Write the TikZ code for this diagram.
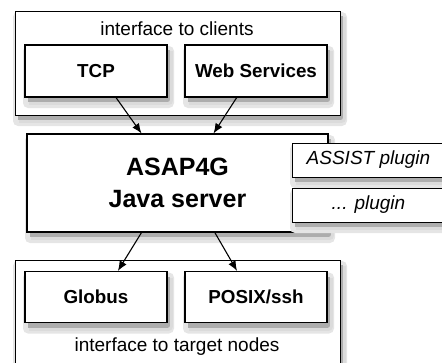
\documentclass[tikz,border=0pt]{standalone}
\usepackage{fontspec}
\setmainfont{Liberation Sans}
\usetikzlibrary{arrows.meta}
\newcommand\myshadow[4]{%
  \fill[black!10,rounded corners=5pt] (#1-2,#2+1) rectangle (#3+7,#4+11);
  \draw[black!14,line width=9pt,line join=round] (#3+1.5,#2+6) -- (#3+1.5,#4+3.5) -- (#1+4,#4+3.5);
  \draw[black!32,line width=5pt,line join=round] (#3+0.5,#2+5) -- (#3+0.5,#4+2.5) -- (#1+3,#4+2.5);}
\begin{document}
\begin{tikzpicture}[x=1pt,y=-1pt,
  outer/.style={draw,line width=1pt,fill=white,inner sep=0pt},
  inbox/.style={draw,line width=1.1pt,fill=white,minimum width=142pt,minimum height=52pt,font=\fontsize{18.8}{20}\selectfont\bfseries,inner sep=0pt},
  plug/.style={draw,line width=1pt,fill=white,minimum width=152pt,minimum height=34pt,font=\fontsize{19}{20}\selectfont\itshape,inner sep=0pt},
  lbl/.style={font=\fontsize{19}{20}\selectfont,inner sep=0pt,anchor=base},
  arr/.style={line width=1.1pt,-{Latex[length=10pt,width=8pt]}}]
\useasboundingbox (0,0) rectangle (442,362);
\begin{scope}
\clip (0,0) rectangle (442,362);
% outer boxes
\myshadow{15}{11}{340}{115}
\node[outer,minimum width=325pt,minimum height=104pt] (top) at (177.5,63) {};
\myshadow{15}{260}{340}{370}
\node[outer,minimum width=325pt,minimum height=110pt] (bot) at (177.5,315) {};
\node[lbl] (toplbl) at (177,35.5) {interface to clients};
\node[lbl] (botlbl) at (177,351) {interface to target nodes};
% inner boxes
\myshadow{25}{45}{167}{97}
\node[inbox] (tcp) at (96,71) {TCP};
\myshadow{185}{45}{327}{97}
\node[inbox] (web) at (256,71) {Web Services};
\myshadow{25}{271.5}{167}{322.5}
\node[inbox,minimum height=51pt] (globus) at (96,297) {Globus};
\myshadow{185}{271.5}{327}{322.5}
\node[inbox,minimum height=51pt] (posix) at (256,297) {POSIX/ssh};
% server
\myshadow{27}{134}{328}{232}
\node[draw,line width=1.1pt,fill=white,minimum width=301pt,minimum height=98pt,align=center,
  font=\fontsize{25}{31.6}\selectfont\bfseries,inner sep=0pt] (server) at (177.5,183) {ASAP4G\\Java server};
\myshadow{292}{143}{444}{177}
\node[plug,anchor=west] (assist) at (292,160) {ASSIST plugin};
\myshadow{292}{188}{444}{222}
\node[plug,anchor=west] (other) at (292,205) {... plugin};
% arrows
\draw[arr] (tcp.-53.8) -- (server.126.7);
\draw[arr] (web.-126.2) -- (server.54.1);
\draw[arr] (server.-126.7) -- (globus.50.5);
\draw[arr] (server.-53.3) -- (posix.126.2);
\end{scope}
\end{tikzpicture}
\end{document}
